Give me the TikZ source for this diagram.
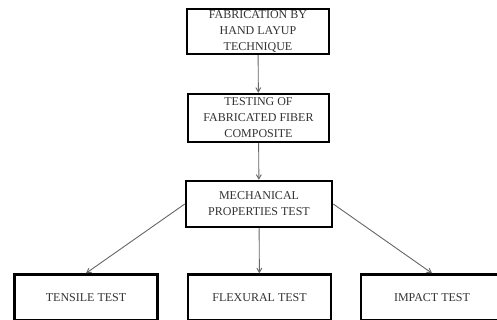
\documentclass[tikz,border=0pt]{standalone}
\usepackage{fontspec}
\setmainfont{Liberation Serif}
\usepackage{tikz}
\usetikzlibrary{arrows}

\begin{document}
\begin{tikzpicture}[x=1pt,y=-1pt,
  stage/.style={draw=black, line width=2.5pt, fill=white, align=center,
    text=black!80, font=\fontsize{12}{16}\selectfont, inner sep=0pt},
  flow/.style={->, >=angle 60, draw=black!60, line width=0.9pt}]
  \useasboundingbox (0,0) rectangle (497,320);
  % process steps
  \node [stage, minimum width=142pt, minimum height=45pt] (fab) at (258,31.5)
    {FABRICATION BY\\HAND LAYUP\\TECHNIQUE};
  \node [stage, minimum width=141pt, minimum height=48pt] (testing) at (258.5,118)
    {TESTING OF\\FABRICATED FIBER\\COMPOSITE};
  \node [stage, minimum width=146pt, minimum height=46pt] (mech) at (259,204)
    {MECHANICAL\\PROPERTIES TEST};
  % tests
  \node [stage, minimum width=143pt, minimum height=46pt] (tensile) at (86,297.5)
    {TENSILE TEST};
  \node [stage, minimum width=143pt, minimum height=46pt] (flexural) at (259.5,297.5)
    {FLEXURAL TEST};
  \node [stage, minimum width=142pt, minimum height=46pt] (impact) at (432,297.5)
    {IMPACT TEST};
  % arrows
  \draw [flow] (fab) -- (testing);
  \draw [flow] (testing) -- (mech);
  \draw [flow] (mech.west) -- (tensile.north);
  \draw [flow] (mech) -- (flexural);
  \draw [flow] (mech.east) -- (impact.north);
\end{tikzpicture}
\end{document}
